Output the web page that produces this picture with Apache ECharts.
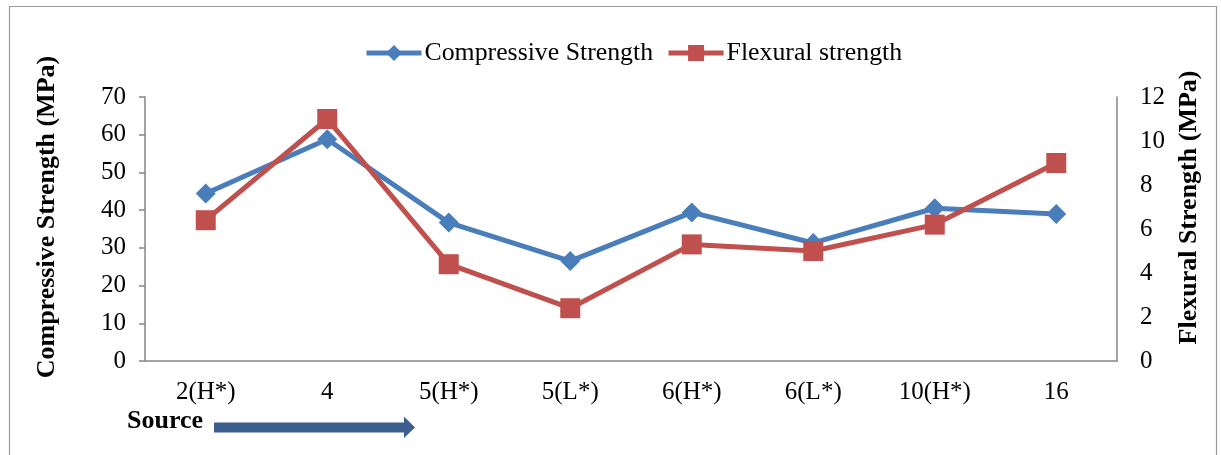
<!DOCTYPE html>
<html>
<head>
<meta charset="utf-8">
<script src="https://cdn.jsdelivr.net/npm/echarts@6/dist/echarts.min.js"></script>
<style>
html,body{margin:0;padding:0;background:#fff;}
#c{width:1221px;height:455px;}
</style>
</head>
<body>
<div id="c"></div>
<script>
const categories = ['2(H*)','4','5(H*)','5(L*)','6(H*)','6(L*)','10(H*)','16'];
const compressive = [44.4, 58.8, 36.7, 26.5, 39.4, 31.3, 40.5, 39.0];
const flexural = [6.4, 11.0, 4.4, 2.4, 5.3, 5.0, 6.2, 9.0];
const leftTicks = [0, 70, 10];
const rightTicks = [0, 12, 2];
const leftTitle = 'Compressive Strength (MPa)';
const rightTitle = 'Flexural Strength (MPa)';
const sourceLabel = 'Source';

const FONT = 'Liberation Serif';
const BOLD = 'bold 26px "Liberation Serif"';
const chart = echarts.init(document.getElementById('c'));
chart.setOption({
  animation:false,
  backgroundColor:'#fff',
  textStyle:{fontFamily:FONT},
  graphic:[
    {type:'rect', shape:{x:9.5,y:6.5,width:1207,height:470}, style:{fill:'none',stroke:'#9a9a9a',lineWidth:1.2}, silent:true},
    {type:'text', x:47.5, y:217, rotation:Math.PI/2, style:{text:leftTitle, font:BOLD, fill:'#000', align:'center', verticalAlign:'middle'}},
    {type:'text', x:1189, y:207.5, rotation:Math.PI/2, style:{text:rightTitle, font:BOLD, fill:'#000', align:'center', verticalAlign:'middle'}},
    {type:'text', x:127, y:421.5, style:{text:sourceLabel, font:BOLD, fill:'#000', align:'left', verticalAlign:'middle'}},
    {type:'polygon', shape:{points:[[214,422.5],[404,422.5],[404,416.5],[415,427.5],[404,438],[404,432.5],[214,432.5]]}, style:{fill:'#3b5e8c'}}
  ],
  legend:{
    top:40, left:364, padding:0,
    itemWidth:55, itemHeight:20, itemGap:13,
    textStyle:{fontFamily:FONT, fontSize:25.8, color:'#000', padding:[0,0,0,-2]},
    lineStyle:{width:5},
    data:['Compressive Strength','Flexural strength']
  },
  grid:{left:145, right:104, top:97, bottom:94, containLabel:false},
  xAxis:{
    type:'category', data:categories, boundaryGap:true,
    axisLine:{lineStyle:{color:'#868686', width:1.5}},
    axisTick:{show:false},
    axisLabel:{fontFamily:FONT, fontSize:25, color:'#000', margin:19},
    splitLine:{show:false}
  },
  yAxis:[
    {
      type:'value', min:leftTicks[0], max:leftTicks[1], interval:leftTicks[2],
      axisLine:{show:true, lineStyle:{color:'#868686', width:1.5}},
      axisTick:{show:true, length:6, lineStyle:{color:'#868686', width:1.5}},
      axisLabel:{fontFamily:FONT, fontSize:25, color:'#000', margin:19},
      splitLine:{show:false}
    },
    {
      type:'value', min:rightTicks[0], max:rightTicks[1], interval:rightTicks[2], position:'right',
      axisLine:{show:true, lineStyle:{color:'#868686', width:1.5}},
      axisTick:{show:false},
      axisLabel:{fontFamily:FONT, fontSize:25, color:'#000', margin:23},
      splitLine:{show:false}
    }
  ],
  series:[
    {
      name:'Compressive Strength', type:'line', yAxisIndex:0, data:compressive,
      symbol:'diamond', symbolSize:20,
      lineStyle:{color:'#4a7ebb', width:5}, itemStyle:{color:'#4a7ebb'}, z:2
    },
    {
      name:'Flexural strength', type:'line', yAxisIndex:1, data:flexural,
      symbol:'rect', symbolSize:20,
      lineStyle:{color:'#c0504d', width:5}, itemStyle:{color:'#c0504d'}, z:3
    }
  ]
});
</script>
</body>
</html>
